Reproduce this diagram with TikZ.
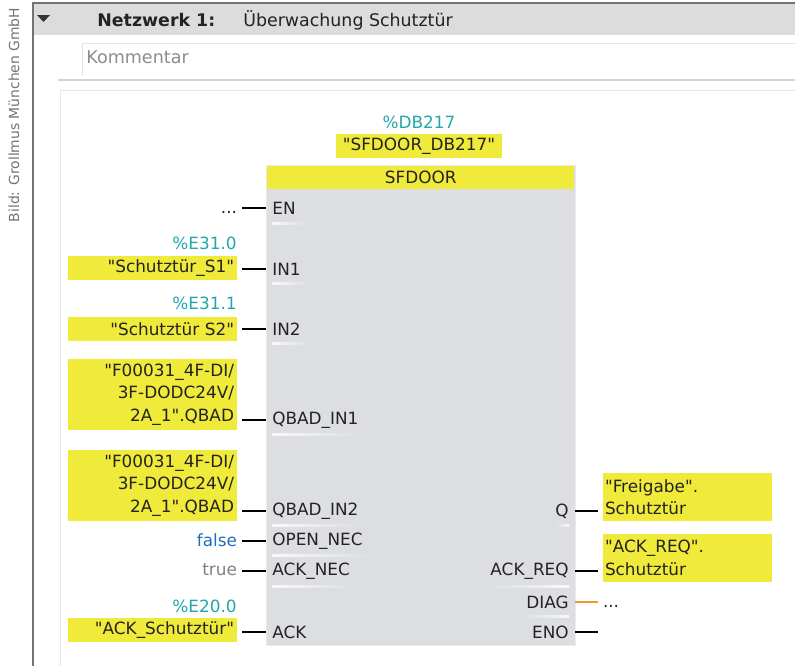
\documentclass[tikz,border=0pt]{standalone}
\usepackage{fontspec}
\setmainfont{DejaVu Sans}[Ligatures=TeXOff]
\usetikzlibrary{calc}
\definecolor{VarClr}{RGB}{240,234,58}
\definecolor{BlockClr}{RGB}{221,222,226}
\definecolor{AddrClr}{RGB}{34,168,170}
\definecolor{BlueClr}{RGB}{30,110,190}
\definecolor{HeadClr}{RGB}{220,220,220}
\definecolor{DiagClr}{RGB}{242,150,50}
\definecolor{TextClr}{RGB}{35,35,35}
\definecolor{LineClr}{RGB}{212,208,230}

\begin{document}
\begin{tikzpicture}[x=0.02cm,y=-0.02cm,
  font=\fontsize{9.6}{12.8}\selectfont,text=TextClr,
  var/.style={fill=VarClr,minimum height=0.47cm,inner ysep=0pt,outer xsep=0.1cm,outer ysep=0pt},
  varL/.style={var,anchor=east,align=right,text width=3.26cm,inner xsep=0.06cm},
  varR/.style={var,anchor=west,align=left,text width=3.30cm,inner xsep=0.04cm,minimum height=0.96cm},
  addr/.style={text=AddrClr,anchor=east,inner sep=0pt},
  konst/.style={anchor=east,inner xsep=0pt,outer xsep=0.1cm},
  pinL/.style={anchor=west,inner xsep=0.12cm,inner ysep=0pt},
  pinR/.style={anchor=east,inner xsep=0.12cm,inner ysep=0pt},
  wire/.style={line width=1.7pt,black}]

\useasboundingbox (0,0) rectangle (795,666);

% Netzwerk header
\fill[HeadClr] (34,4) rectangle (795,35);
\draw[line width=1.2pt,black!55] (33,666) -- (33,3) -- (795,3);
\fill[black!80] (37,15) -- (50,15) -- (43.5,22) -- cycle;
\node[anchor=west,inner sep=0pt,font=\fontsize{9.9}{12}\selectfont\bfseries] (nwTitle) at (97,20) {Netzwerk 1:};
\node[anchor=west,inner sep=0pt,font=\fontsize{9.9}{12}\selectfont] (nwName) at (243,20) {Überwachung Schutztür};

\draw[black!10] (82,76) -- (82,43) -- (795,43);
\node[anchor=west,inner sep=0pt,text=black!45,font=\fontsize{10}{12}\selectfont] (kommentar) at (86,57) {Kommentar};
\draw[line width=0.8pt,LineClr] (58,80) -- (795,80);
\draw[black!10] (60,666) -- (60,90) -- (795,90);

\node[rotate=90,inner sep=0pt,text=black!55,font=\fontsize{7.9}{10}\selectfont] (credit) at (14,115) {Bild: Grollmus München GmbH};

% Baustein
\node[addr,anchor=center] (dbAddr) at (419,122) {\%DB217};
\node[var,minimum width=3.34cm] (db) at (419,146) {"SFDOOR\_DB217"};
\node[draw=white!40!BlockClr,fill=BlockClr,anchor=north west,minimum width=6.18cm,minimum height=9.6cm,inner sep=0pt] (fb) at (266,165) {};
\node[fill=VarClr,anchor=north,minimum width=6.14cm,minimum height=0.46cm,inner sep=0pt] (fbType) at ([yshift=-0.02cm]fb.north) {SFDOOR};

\node[pinL] (pEN) at (266,208) {EN};
\node[pinL] (pIN1) at (266,269) {IN1};
\node[pinL] (pIN2) at (266,329) {IN2};
\node[pinL] (pQBAD1) at (266,420) {QBAD\_IN1};
\node[pinL] (pQBAD2) at (266,511) {QBAD\_IN2};
\node[pinL] (pOpen) at (266,541) {OPEN\_NEC};
\node[pinL] (pAckNec) at (266,571) {ACK\_NEC};
\node[pinL] (pAck) at (266,632) {ACK};

\node[pinR] (pQ) at (575,511) {Q};
\node[pinR] (pAckReq) at (575,571) {ACK\_REQ};
\node[pinR] (pDiag) at (575,602) {DIAG};
\node[pinR] (pENO) at (575,632) {ENO};

\shade[left color=white!80!BlockClr,right color=BlockClr] (272,222.5) rectangle (306,224);
\shade[left color=white!80!BlockClr,right color=BlockClr] (272,282.5) rectangle (310,284);
\shade[left color=white!80!BlockClr,right color=BlockClr] (272,342.5) rectangle (310,344);
\shade[left color=white!80!BlockClr,right color=BlockClr] (272,433.5) rectangle (360,435);
\shade[left color=white!80!BlockClr,right color=BlockClr] (272,524.5) rectangle (362,526);
\shade[left color=white!80!BlockClr,right color=BlockClr] (272,554.5) rectangle (372,556);
\shade[left color=white!80!BlockClr,right color=BlockClr] (272,585.5) rectangle (355,587);
\shade[left color=BlockClr,right color=white!80!BlockClr] (556,524.5) rectangle (569,526);
\shade[left color=BlockClr,right color=white!80!BlockClr] (484,585.5) rectangle (569,587);
\shade[left color=BlockClr,right color=white!80!BlockClr] (522,615.5) rectangle (569,617);

% Eingaenge
\node[konst,anchor=base east,inner ysep=0pt] (vEN) at (242,213) {...};
\node[addr] (aS1) at (237,243) {\%E31.0};
\node[varL] (vS1) at (242,268) {"Schutztür\_S1"};
\node[addr] (aS2) at (237,303) {\%E31.1};
\node[varL] (vS2) at (242,329) {"Schutztür S2"};
\node[varL,minimum height=1.42cm] (vQBAD1) at (242,394.5) {"F00031\_4F-DI/\\3F-DODC24V/\\2A\_1".QBAD};
\node[varL,minimum height=1.42cm] (vQBAD2) at (242,485.5) {"F00031\_4F-DI/\\3F-DODC24V/\\2A\_1".QBAD};
\node[konst,text=BlueClr] (vOpen) at (242,540) {false};
\node[konst,text=black!50] (vAckNec) at (242,570) {true};
\node[addr] (aAck) at (237,606) {\%E20.0};
\node[varL] (vAck) at (242,630) {"ACK\_Schutztür"};

\draw[wire] (pEN.west) -- (pEN.west -| vEN.east);
\draw[wire] (pIN1.west) -- (pIN1.west -| vS1.east);
\draw[wire] (pIN2.west) -- (pIN2.west -| vS2.east);
\draw[wire] (pQBAD1.west) -- (pQBAD1.west -| vQBAD1.east);
\draw[wire] (pQBAD2.west) -- (pQBAD2.west -| vQBAD2.east);
\draw[wire] (pOpen.west) -- (pOpen.west -| vOpen.east);
\draw[wire] (pAckNec.west) -- (pAckNec.west -| vAckNec.east);
\draw[wire] (pAck.west) -- (pAck.west -| vAck.east);

% Ausgaenge
\node[varR] (vQ) at (598,497) {"Freigabe".\\Schutztür};
\node[varR] (vAckReq) at (598,558) {"ACK\_REQ".\\Schutztür};
\node[anchor=base west,inner xsep=0pt,outer xsep=0.1cm] (vDiag) at (598,607) {...};
\coordinate (cENO) at (598,632);

\draw[wire] (pQ.east) -- (pQ.east -| vQ.west);
\draw[wire] (pAckReq.east) -- (pAckReq.east -| vAckReq.west);
\draw[wire,DiagClr,line width=1.2pt] (pDiag.east) -- (pDiag.east -| vDiag.west);
\draw[wire] (pENO.east) -- (cENO);

\end{tikzpicture}
\end{document}
